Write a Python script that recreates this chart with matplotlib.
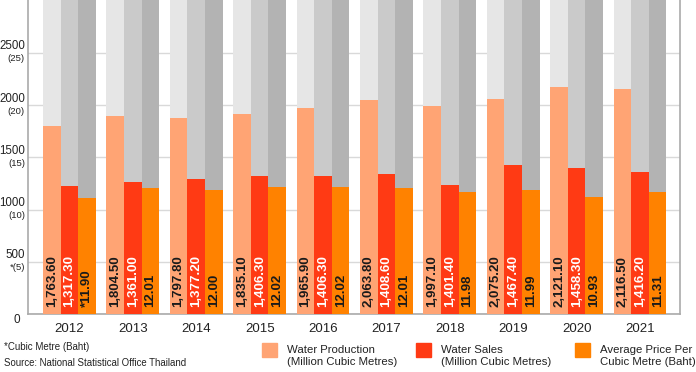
import matplotlib
matplotlib.use("Agg")
from matplotlib import pyplot as plt
from matplotlib.patches import Rectangle
import matplotlib.transforms as mtransforms

plt.rcParams['font.family'] = ['Liberation Sans', 'DejaVu Sans']

years = ['2012', '2013', '2014', '2015', '2016', '2017', '2018', '2019', '2020', '2021']

# bar heights as drawn in the picture (axis units)
production_bar = [1804, 1899, 1877, 1916, 1970, 2047, 1992, 2063, 2177, 2155]
sales_bar = [1223, 1264, 1293, 1325, 1325, 1344, 1237, 1430, 1396, 1363]
price_bar = [1114, 1210, 1188, 1219, 1219, 1207, 1169, 1185, 1121, 1169]

# values printed inside the bars
production_labels = ['1,763.60', '1,804.50', '1,797.80', '1,835.10', '1,965.90',
                     '2,063.80', '1,997.10', '2,075.20', '2,121.10', '2,116.50']
sales_labels = ['1,317.30', '1,361.00', '1,377.20', '1,406.30', '1,406.30',
                '1,408.60', '1,401.40', '1,467.40', '1,458.30', '1,416.20']
price_labels = ['*11.90', '12.01', '12.00', '12.02', '12.02',
                '12.01', '11.98', '11.99', '10.93', '11.31']

y_ticks = [0, 500, 1000, 1500, 2000, 2500]
y_sub = ['', '*(5)', '(10)', '(15)', '(20)', '(25)']

c_prod = '#ffa474'
c_sales = '#ff3a14'
c_price = '#ff8200'

fig = plt.figure(figsize=(6.96, 3.72), dpi=100)
ax = fig.add_axes([0.0398, 0.156, 0.977 - 0.0398, 0.844])

ymax = 3008
w = 0.278
x = list(range(len(years)))
xp = [i - w for i in x]
xs = x
xc = [i + w for i in x]

# grey backdrop columns
ax.bar(xp, [ymax] * 10, width=w, color='#e6e6e6', zorder=2)
ax.bar(xs, [ymax] * 10, width=w, color='#cacaca', zorder=2)
ax.bar(xc, [ymax] * 10, width=w, color='#b3b3b3', zorder=2)

ax.bar(xp, production_bar, width=w, color=c_prod, zorder=3)
ax.bar(xs, sales_bar, width=w, color=c_sales, zorder=3)
ax.bar(xc, price_bar, width=w, color=c_price, zorder=3)

for i in range(len(years)):
    ax.annotate(production_labels[i], (xp[i], 0), xytext=(0, 5), textcoords='offset points',
                rotation=90, ha='center', va='bottom', fontsize=9.5, fontweight='bold',
                color='#1a1a1a', zorder=4)
    ax.annotate(sales_labels[i], (xs[i], 0), xytext=(0, 5), textcoords='offset points',
                rotation=90, ha='center', va='bottom', fontsize=9.5, fontweight='bold',
                color='white', zorder=4)
    ax.annotate(price_labels[i], (xc[i], 0), xytext=(0, 5), textcoords='offset points',
                rotation=90, ha='center', va='bottom', fontsize=9.5, fontweight='bold',
                color='#1a1a1a', zorder=4)

ax.set_xlim(-0.658, 9.63)
ax.set_ylim(0, ymax)
ax.set_yticks(y_ticks)
ax.set_yticklabels([])
ax.tick_params(left=False, bottom=False)
ax.set_xticks(x)
ax.set_xticklabels(years, fontsize=9.5, color='#222222')
ax.tick_params(axis='x', pad=3)
ax.grid(axis='y', color='#d9d9d9', linewidth=1, zorder=0)
ax.set_axisbelow(True)
for s in ['left', 'right', 'bottom']:
    ax.spines[s].set_color('#aaaaaa')
    ax.spines[s].set_linewidth(1.2)
ax.spines['top'].set_visible(False)

trans = mtransforms.blended_transform_factory(ax.transAxes, ax.transData)
for t, sub in zip(y_ticks, y_sub):
    if t == 0:
        ax.text(-0.011, t, '0', transform=trans, ha='right', va='top', fontsize=8.5, color='#222222')
        continue
    ax.annotate(str(t), (0, t), xycoords=trans, xytext=(-2, 0.5), textcoords='offset points',
                ha='right', va='bottom', fontsize=8.3, color='#222222', annotation_clip=False)
    ax.annotate(sub, (0, t), xycoords=trans, xytext=(-2, -1), textcoords='offset points',
                ha='right', va='top', fontsize=6.8, color='#222222', annotation_clip=False)

# footnotes
fig.text(4 / 696, 1 - 347 / 372, '*Cubic Metre (Baht)', fontsize=7, va='center', color='#222222')
fig.text(4 / 696, 1 - 363 / 372, 'Source: National Statistical Office Thailand', fontsize=6.9,
         va='center', color='#222222')

# legend
legend_items = [(262, c_prod, 'Water Production\n(Million Cubic Metres)'),
                (416, c_sales, 'Water Sales\n(Million Cubic Metres)'),
                (575, c_price, 'Average Price Per\nCubic Metre (Baht)')]
for px, col, lab in legend_items:
    fig.patches.append(Rectangle((px / 696, 1 - 357 / 372), 14.5 / 696, 14 / 372,
                                 transform=fig.transFigure, color=col, figure=fig))
    fig.text((px + 25) / 696, 1 - 356 / 372, lab, fontsize=8.2, va='center', color='#222222',
             linespacing=1.15)

fig.savefig('out.png', dpi=100)
